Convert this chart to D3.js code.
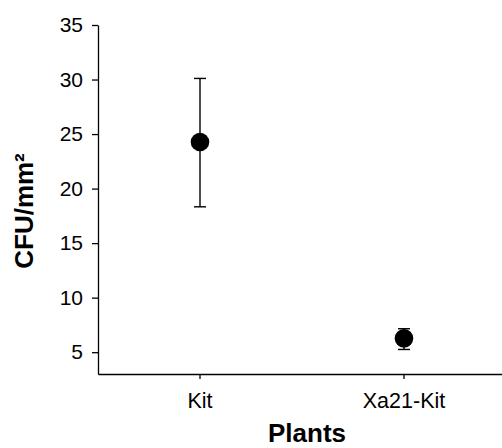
<!DOCTYPE html>
<html>
<head>
<meta charset="utf-8">
<script src="https://cdn.jsdelivr.net/npm/d3@7"></script>
<style>
  body { margin: 0; background: #fff; }
  svg { display: block; font-family: "Liberation Sans", Arial, sans-serif; }
  .axis path, .axis line { stroke: #000; stroke-width: 1.3px; }
  .axis text { fill: #000; }
</style>
</head>
<body>
<svg id="chart"></svg>
<script>
// values
const plants = ['Kit', 'Xa21-Kit'];
const cfuMean = [24.27, 6.27];
const cfuUpper = [30.1, 7.15];
const cfuLower = [18.33, 5.25];
const yTicks = [5, 10, 15, 20, 25, 30, 35];

const width = 502;
const height = 448;
const margin = { top: 25, right: -4, bottom: 74, left: 98 };

const svg = d3.select('#chart')
    .attr('width', width)
    .attr('height', height);

const x = d3.scaleBand()
    .domain(plants)
    .range([margin.left, width - margin.right]);

const y = d3.scaleLinear()
    .domain([3, 35])
    .range([height - margin.bottom, margin.top]);

// y axis
let yAxis = svg.append('g')
    .attr('class', 'axis')
    .attr('transform', `translate(${margin.left},0)`)
    .call(d3.axisLeft(y).tickValues(yTicks).tickSize(6).tickSizeOuter(0).tickPadding(9));
yAxis.selectAll('text').style('font-size', '21px');

// x axis
let xAxis = svg.append('g')
    .attr('class', 'axis')
    .attr('transform', `translate(0,${height - margin.bottom})`)
    .call(d3.axisBottom(x).tickSize(5).tickSizeOuter(0).tickPadding(14));
xAxis.selectAll('text').style('font-size', '21.5px');

// axis titles
svg.append('text')
    .attr('transform', `translate(33,211) rotate(-90)`)
    .attr('text-anchor', 'middle')
    .style('font-size', '26px')
    .style('font-weight', 'bold')
    .text('CFU/mm²');

svg.append('text')
    .attr('x', 307)
    .attr('y', 442)
    .attr('text-anchor', 'middle')
    .style('font-size', '26px')
    .style('font-weight', 'bold')
    .text('Plants');

// error bars + points
const cx = d => x(d) + x.bandwidth() / 2;
const capW = 6;

let g = svg.append('g');
plants.forEach((p, i) => {
    g.append('line')
        .attr('x1', cx(p)).attr('x2', cx(p))
        .attr('y1', y(cfuUpper[i])).attr('y2', y(cfuLower[i]))
        .attr('stroke', '#000').attr('stroke-width', 1.4);
    [cfuUpper[i], cfuLower[i]].forEach(v => {
        g.append('line')
            .attr('x1', cx(p) - capW).attr('x2', cx(p) + capW)
            .attr('y1', y(v)).attr('y2', y(v))
            .attr('stroke', '#000').attr('stroke-width', 1.4);
    });
    g.append('circle')
        .attr('cx', cx(p))
        .attr('cy', y(cfuMean[i]))
        .attr('r', 9.3)
        .attr('fill', '#000');
});
</script>
</body>
</html>
